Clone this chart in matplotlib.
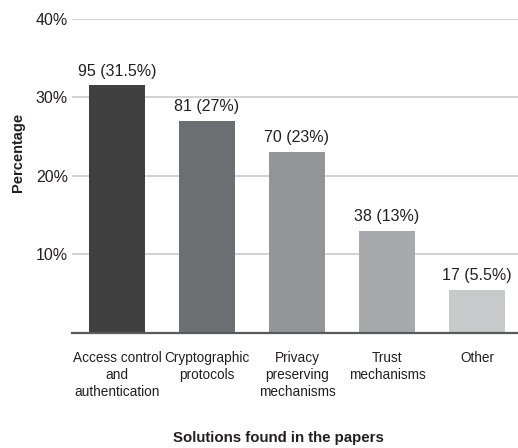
import matplotlib
matplotlib.use("Agg")
import matplotlib.pyplot as plt

# Data
categories = ["Access control\nand\nauthentication", "Cryptographic\nprotocols",
              "Privacy\npreserving\nmechanisms", "Trust\nmechanisms", "Other"]
counts = [95, 81, 70, 38, 17]
percentages = [31.5, 27, 23, 13, 5.5]
pct_labels = ["31.5%", "27%", "23%", "13%", "5.5%"]
yticks = [10, 20, 30, 40]
ytick_labels = ["10%", "20%", "30%", "40%"]
bar_colors = ["#404041", "#6d6e71", "#939598", "#a7a9ac", "#c8c9cb"]

plt.rcParams["font.family"] = ["Liberation Sans", "DejaVu Sans"]

W, H = 518, 448
fig = plt.figure(figsize=(W / 100, H / 100), dpi=100)
ax_left, ax_right = 72, 518
ax_bottom, ax_top = 333, 18.7
ax = fig.add_axes([ax_left / W, 1 - ax_bottom / H,
                   (ax_right - ax_left) / W, (ax_bottom - ax_top) / H])

x = list(range(len(categories)))
ax.bar(x, percentages, width=0.62, color=bar_colors, zorder=3)

for xi, c, p, lab in zip(x, counts, percentages, pct_labels):
    ax.annotate(f"{c} ({lab})", (xi, p), xytext=(0, 5), textcoords="offset points",
                ha="center", va="bottom", fontsize=11.5, color="#231f20")

ax.set_xlim(-0.5, 4.456)
ax.set_ylim(0, 40)
ax.set_yticks(yticks)
ax.set_yticklabels(ytick_labels, fontsize=11.5, color="#231f20")
ax.set_xticks(x)
ax.set_xticklabels(categories, fontsize=9.8, color="#231f20", linespacing=1.25)
ax.tick_params(axis="y", length=0, pad=3)
ax.tick_params(axis="x", length=0, pad=13)

ax.grid(axis="y", color="#cfcfcf", linewidth=1.3, zorder=0)
for side in ["top", "right", "left"]:
    ax.spines[side].set_visible(False)
ax.spines["bottom"].set_color("#58595b")
ax.spines["bottom"].set_linewidth(1.6)
ax.spines["bottom"].set_zorder(4)

fig.text(18 / W, 1 - 152 / H, "Percentage", rotation=90, ha="center", va="center",
         fontsize=10.5, fontweight="bold", color="#231f20")
fig.text(278 / W, 1 - 438 / H, "Solutions found in the papers", ha="center", va="center",
         fontsize=10.8, fontweight="bold", color="#231f20")

fig.savefig("out.png", dpi=100, facecolor="white")
